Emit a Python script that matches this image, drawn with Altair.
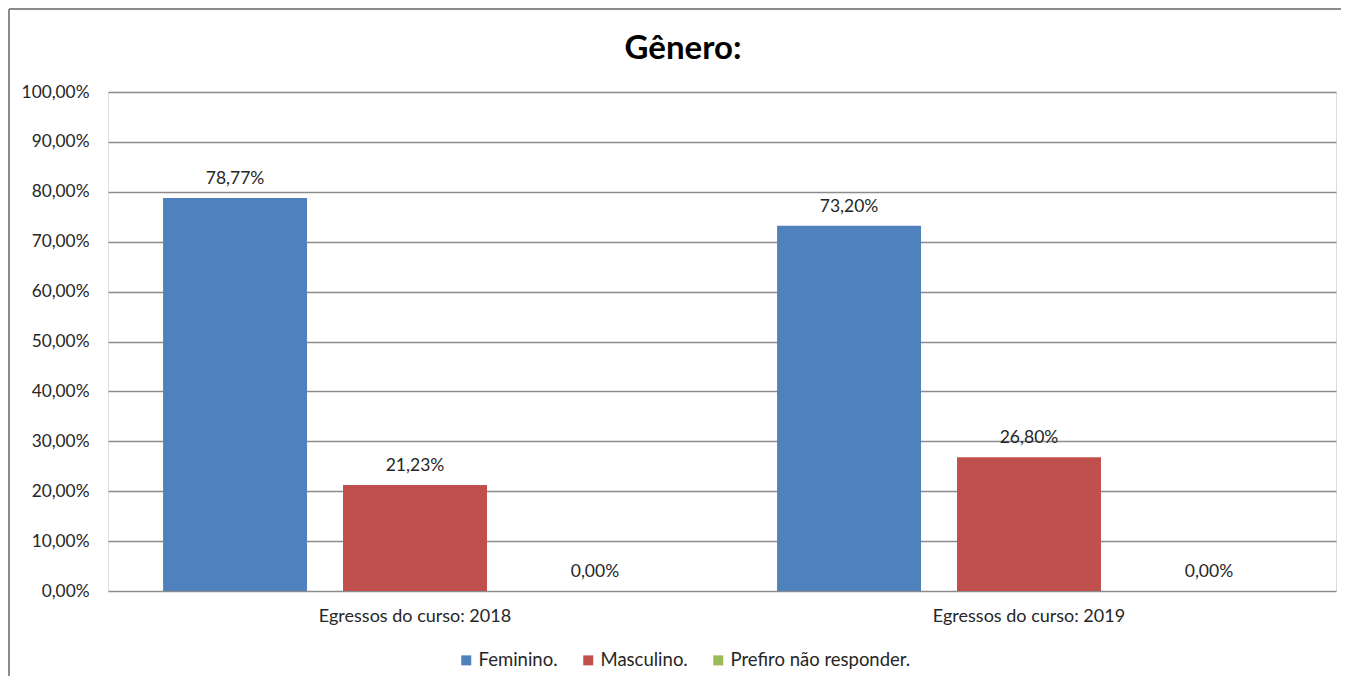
import altair as alt
import pandas as pd

categories = ["Egressos do curso: 2018", "Egressos do curso: 2019"]
series = ["Feminino.", "Masculino.", "Prefiro não responder."]
feminino = [0.7877, 0.7320]
masculino = [0.2123, 0.2680]
prefiro = [0.0, 0.0]
colors = ["#4F81BD", "#C0504D", "#9BBB59"]
y_ticks = [0.0, 0.1, 0.2, 0.3, 0.4, 0.5, 0.6, 0.7, 0.8, 0.9, 1.0]

rows = []
for i, c in enumerate(categories):
    for s, vals in zip(series, [feminino, masculino, prefiro]):
        rows.append({"cat": c, "serie": s, "v": vals[i]})
df = pd.DataFrame(rows)

FONT = "Lato"
TXT = "#262626"
GRID = "#8c8c8c"
W, H = 1228, 499

x_enc = alt.X("cat:N", sort=categories, title=None,
              scale=alt.Scale(paddingInner=0, paddingOuter=0),
              axis=alt.Axis(labelAngle=0, ticks=False, domain=False, grid=False,
                            labelPadding=16, labelFontSize=18, labelFont=FONT,
                            labelColor=TXT, labelLimit=0))
xo_enc = alt.XOffset("serie:N", sort=series,
                     scale=alt.Scale(paddingInner=0.2, paddingOuter=0.306))
y_enc = alt.Y("v:Q", title=None,
              scale=alt.Scale(domain=[0, 1], nice=False),
              axis=alt.Axis(values=y_ticks, domain=False, ticks=False, grid=True,
                            gridColor=GRID, gridWidth=1.5, labelPadding=19,
                            labelFontSize=17.3, labelFont=FONT, labelColor=TXT,
                            labelExpr="replace(format(datum.value, '.2%'), '.', ',')"))

base = alt.Chart(df).transform_calculate(
    lab="replace(format(datum.v, '.2%'), '.', ',')"
)

bars = base.mark_bar().encode(
    x=x_enc,
    xOffset=xo_enc,
    y=y_enc,
    color=alt.Color("serie:N", sort=series, title=None,
                    scale=alt.Scale(domain=series, range=colors),
                    legend=alt.Legend(orient="none", legendX=349, legendY=559,
                                      direction="horizontal", symbolType="square",
                                      symbolSize=100, symbolStrokeWidth=0,
                                      labelFont=FONT, labelFontSize=18.5,
                                      labelColor=TXT, labelOffset=3,
                                      columnPadding=21, padding=0, labelLimit=0)),
)

labels = base.mark_text(dy=-19, fontSize=17.5, font=FONT, color=TXT).encode(
    x=alt.X("cat:N", sort=categories),
    xOffset=alt.XOffset("serie:N", sort=series),
    y=alt.Y("v:Q"),
    text="lab:N",
)

frame_left = alt.Chart(df).mark_rule(color="#8c8c8c", strokeWidth=2).encode(
    x=alt.value(-99), y=alt.value(-83), y2=alt.value(600)
)
frame_top = alt.Chart(df).mark_rule(color="#8c8c8c", strokeWidth=2).encode(
    x=alt.value(-99), x2=alt.value(1240), y=alt.value(-83)
)

chart = alt.layer(bars, labels, frame_left, frame_top).properties(
    width=W, height=H,
    autosize=alt.AutoSizeParams(type="none"),
    padding={"left": 100, "top": 84, "right": 5, "bottom": 85},
    title=alt.TitleParams("Gênero:", font=FONT, fontSize=33, fontWeight="bold",
                          color="#000000", anchor="middle", dx=-39, offset=-84,
                          baseline="alphabetic"),
).configure_view(stroke=None).configure(background="white")

chart.save("out.html", embed_options={"renderer": "svg", "actions": False})
